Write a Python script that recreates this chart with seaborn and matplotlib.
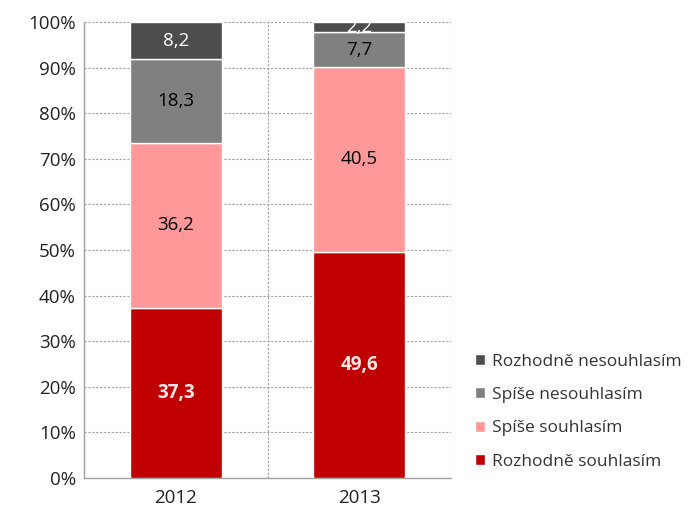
import numpy as np
import pandas as pd
import seaborn as sns
import matplotlib.pyplot as plt

roky = ['2012', '2013']
rozhodne_souhlasim = [37.3, 49.6]
spise_souhlasim = [36.2, 40.5]
spise_nesouhlasim = [18.3, 7.7]
rozhodne_nesouhlasim = [8.2, 2.2]

serie = ['Rozhodně souhlasím', 'Spíše souhlasím', 'Spíše nesouhlasím', 'Rozhodně nesouhlasím']
hodnoty = [rozhodne_souhlasim, spise_souhlasim, spise_nesouhlasim, rozhodne_nesouhlasim]
barvy = ['#C00000', '#FF9999', '#808080', '#4D4D4D']
barvy_textu = ['#FFE8E8', 'black', 'black', 'white']

sns.set_style('white')
plt.rcParams['font.family'] = ['Open Sans', 'DejaVu Sans']

fig = plt.figure(figsize=(6.96, 5.2), dpi=100)
ax = fig.add_axes([0.1207, 0.0808, 0.5273, 0.877])

spodek = np.zeros(len(roky))
for nazev, val, barva, tb in zip(serie, hodnoty, barvy, barvy_textu):
    df = pd.DataFrame({'rok': roky, 'hodnota': val})
    sns.barplot(data=df, x='rok', y='hodnota', color=barva, width=0.5, saturation=1,
                bottom=spodek, label=nazev, edgecolor='white', linewidth=1,
                ax=ax, zorder=3)
    for i, v in enumerate(val):
        ax.text(i, spodek[i] + v / 2, f'{v:.1f}'.replace('.', ','),
                ha='center', va='center', fontsize=13.5, color=tb,
                fontweight='bold' if barva == '#C00000' else 'normal', zorder=5)
    spodek = spodek + np.array(val)

if ax.get_legend() is not None:
    ax.get_legend().remove()

ax.set_ylim(0, 100)
ax.set_xlim(-0.5, 1.5)
ax.set_yticks(range(0, 101, 10))
ax.set_yticklabels([f'{t}%' for t in range(0, 101, 10)], fontsize=13.5, color='#222222')
ax.set_xticks([0, 1])
ax.set_xticklabels(roky, fontsize=13.5, color='#222222')
ax.tick_params(axis='x', length=0, pad=8)
ax.tick_params(axis='y', length=0, pad=6)
ax.set_xticks([-0.5, 0.5, 1.5], minor=True)
ax.tick_params(axis='x', which='minor', length=5, color='#A0A0A0', direction='out')
ax.set_xlabel('')
ax.set_ylabel('')

ax.grid(axis='y', color='#A0A0A0', linestyle=(0, (2, 1.5)), linewidth=0.8, zorder=0)
ax.grid(axis='x', which='minor', color='#A0A0A0', linestyle=(0, (2, 1.5)), linewidth=0.8, zorder=0)
for s in ['top', 'right']:
    ax.spines[s].set_visible(False)
for s in ['left', 'bottom']:
    ax.spines[s].set_color('#A0A0A0')
    ax.spines[s].set_linewidth(1)

h, l = ax.get_legend_handles_labels()
fig.legend(h[::-1], l[::-1], loc='upper left', bbox_to_anchor=(0.66, 0.35),
           frameon=False, fontsize=12.5, handlelength=0.6, handleheight=0.6,
           handletextpad=0.4, labelspacing=1.0, labelcolor='#333333')

fig.savefig('out.png', dpi=100)
